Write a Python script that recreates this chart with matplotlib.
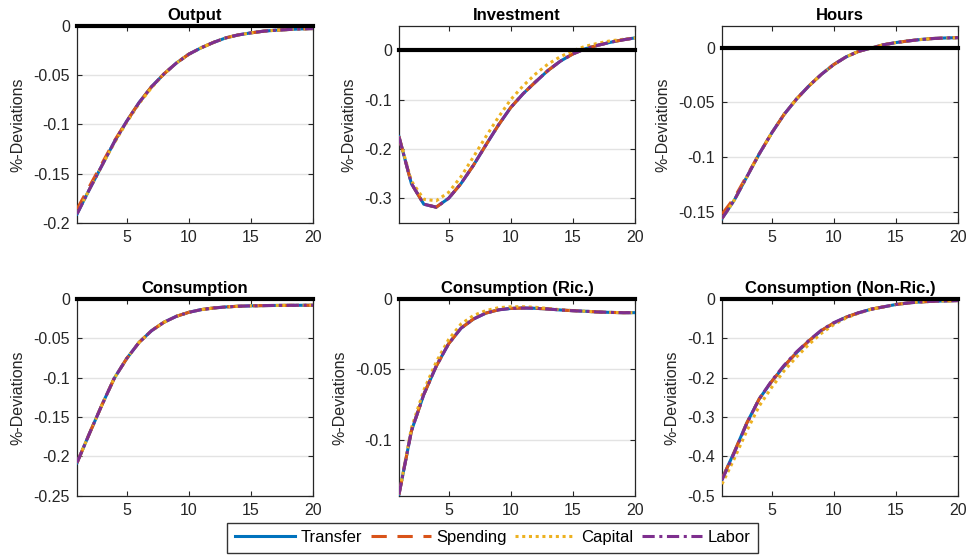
import numpy as np
import matplotlib
matplotlib.use("Agg")
from matplotlib import pyplot as plt
from matplotlib.ticker import FuncFormatter

plt.rcParams['font.family'] = ['Liberation Sans', 'DejaVu Sans']
plt.rcParams['axes.unicode_minus'] = False

periods = np.arange(1, 21)

scenario_names = ['Transfer', 'Spending', 'Capital', 'Labor']
panel_titles = ['Output', 'Investment', 'Hours',
                'Consumption', 'Consumption (Ric.)', 'Consumption (Non-Ric.)']

# impulse responses, one list per scenario
output_transfer = [-0.191, -0.166, -0.142, -0.118, -0.097, -0.078, -0.062, -0.049, -0.038, -0.029,
                   -0.0225, -0.017, -0.0124, -0.0094, -0.0074, -0.0057, -0.0047, -0.004, -0.0034, -0.003]
output_spending = [-0.186, -0.163, -0.140, -0.117, -0.097, -0.078, -0.062, -0.049, -0.038, -0.029,
                   -0.0225, -0.017, -0.0124, -0.0094, -0.0074, -0.0057, -0.0047, -0.004, -0.0034, -0.003]
output_capital = [-0.190, -0.166, -0.142, -0.119, -0.098, -0.079, -0.063, -0.049, -0.038, -0.029,
                  -0.0225, -0.017, -0.0124, -0.0094, -0.0074, -0.0057, -0.0047, -0.004, -0.0034, -0.003]
output_labor = output_transfer

invest_transfer = [-0.175, -0.270, -0.312, -0.318, -0.300, -0.270, -0.233, -0.192, -0.152, -0.116,
                   -0.088, -0.064, -0.041, -0.022, -0.0075, 0.003, 0.010, 0.016, 0.021, 0.025]
invest_spending = invest_transfer
invest_capital = [-0.175, -0.265, -0.302, -0.305, -0.288, -0.256, -0.216, -0.175, -0.136, -0.100,
                  -0.072, -0.048, -0.028, -0.013, -0.001, 0.008, 0.014, 0.019, 0.022, 0.025]
invest_labor = invest_transfer

hours_transfer = [-0.156, -0.139, -0.118, -0.097, -0.078, -0.061, -0.047, -0.035, -0.0245, -0.0155,
                  -0.0085, -0.0035, -0.0005, 0.0025, 0.0045, 0.006, 0.0073, 0.0082, 0.0087, 0.009]
hours_spending = [-0.152, -0.137, -0.117, -0.097, -0.078, -0.061, -0.047, -0.035, -0.0245, -0.0155,
                  -0.0085, -0.0035, -0.0005, 0.0025, 0.0045, 0.006, 0.0073, 0.0082, 0.0087, 0.009]
hours_capital = hours_transfer
hours_labor = hours_transfer

cons_transfer = [-0.208, -0.171, -0.135, -0.101, -0.076, -0.0555, -0.0407, -0.030, -0.0225, -0.0174,
                 -0.014, -0.0119, -0.0106, -0.0097, -0.0092, -0.0089, -0.0087, -0.0086, -0.0085, -0.0085]
cons_spending = cons_transfer
cons_capital = cons_transfer
cons_labor = cons_transfer

ric_transfer = [-0.139, -0.094, -0.068, -0.048, -0.032, -0.021, -0.0145, -0.0103, -0.008, -0.007,
                -0.0067, -0.0069, -0.0074, -0.0081, -0.0086, -0.009, -0.0095, -0.0098, -0.010, -0.010]
ric_spending = ric_transfer
ric_capital = [-0.139, -0.092, -0.065, -0.045, -0.029, -0.018, -0.012, -0.0085, -0.0065, -0.0058,
               -0.0058, -0.0062, -0.007, -0.0079, -0.0085, -0.009, -0.0095, -0.0098, -0.010, -0.010]
ric_labor = ric_transfer

nonric_transfer = [-0.457, -0.388, -0.315, -0.254, -0.210, -0.171, -0.137, -0.107, -0.081, -0.062,
                   -0.047, -0.036, -0.027, -0.021, -0.015, -0.011, -0.0085, -0.0068, -0.006, -0.005]
nonric_spending = nonric_transfer
nonric_capital = [-0.470, -0.405, -0.335, -0.272, -0.225, -0.183, -0.148, -0.116, -0.088, -0.066,
                  -0.049, -0.037, -0.027, -0.021, -0.015, -0.011, -0.0085, -0.0068, -0.006, -0.005]
nonric_labor = [-0.460, -0.390, -0.316, -0.254, -0.208, -0.169, -0.135, -0.106, -0.080, -0.061,
                -0.047, -0.036, -0.027, -0.021, -0.015, -0.011, -0.0085, -0.0068, -0.006, -0.005]

panel_series = [
    [output_transfer, output_spending, output_capital, output_labor],
    [invest_transfer, invest_spending, invest_capital, invest_labor],
    [hours_transfer, hours_spending, hours_capital, hours_labor],
    [cons_transfer, cons_spending, cons_capital, cons_labor],
    [ric_transfer, ric_spending, ric_capital, ric_labor],
    [nonric_transfer, nonric_spending, nonric_capital, nonric_labor],
]
panel_ylims = [(-0.2, 0), (-0.35, 0.05), (-0.16, 0.02), (-0.25, 0), (-0.14, 0), (-0.5, 0)]
panel_yticks = [
    [-0.2, -0.15, -0.1, -0.05, 0],
    [-0.3, -0.2, -0.1, 0],
    [-0.15, -0.1, -0.05, 0],
    [-0.25, -0.2, -0.15, -0.1, -0.05, 0],
    [-0.1, -0.05, 0],
    [-0.5, -0.4, -0.3, -0.2, -0.1, 0],
]

colors = ['#0072BD', '#D95319', '#EDB120', '#7E2F8E']
styles = ['-', (0, (5, 3.5)), (0, (1, 1.2)), (0, (4, 1.5, 1, 1.5))]
axis_grey = '#262626'

fig = plt.figure(figsize=(9.66, 5.56), dpi=100)
lefts = [0.0797, 0.413, 0.7474]
bottoms = [0.599, 0.108]
width, height = 0.2443, 0.355

handles = []
for i, title in enumerate(panel_titles):
    ax = fig.add_axes([lefts[i % 3], bottoms[i // 3], width, height])
    for j, series in enumerate(panel_series[i]):
        line, = ax.plot(periods, series, color=colors[j], linestyle=styles[j], lw=2.2,
                        label=scenario_names[j], zorder=3 + j)
        if i == 0:
            handles.append(line)
    ax.axhline(0, color='black', lw=3, zorder=10, clip_on=False)
    ax.set_xlim(1, 20)
    ax.set_ylim(*panel_ylims[i])
    ax.set_xticks([5, 10, 15, 20])
    ax.set_yticks(panel_yticks[i])
    ax.yaxis.set_major_formatter(FuncFormatter(lambda v, p: f"{v:g}" if v != 0 else "0"))
    ax.grid(axis='y', color='#e3e3e3', lw=1)
    ax.set_axisbelow(True)
    ax.tick_params(direction='in', length=3.5, width=0.8, top=True, right=True,
                   colors=axis_grey, labelsize=11.5, pad=5)
    for spine in ax.spines.values():
        spine.set_color(axis_grey)
        spine.set_linewidth(0.9)
    ax.set_title(title, fontsize=12, fontweight='bold', pad=4)
    ax.set_ylabel('%-Deviations', fontsize=11.5, color=axis_grey, labelpad=6)

leg = fig.legend(handles=handles, loc='center', bbox_to_anchor=(0.51, 0.033), ncol=4,
                 fontsize=12, frameon=True, fancybox=False, handlelength=3.6,
                 handletextpad=0.35, columnspacing=0.5, borderpad=0.45)
leg.get_frame().set_edgecolor('black')
leg.get_frame().set_linewidth(1.0)

fig.savefig('out.png', dpi=100)
